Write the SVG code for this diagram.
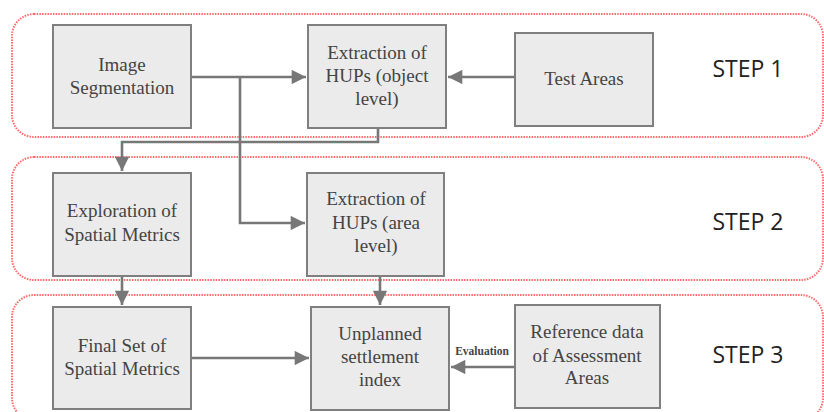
<svg xmlns="http://www.w3.org/2000/svg" width="824" height="412" viewBox="0 0 824 412">
<defs>
<style>
.step{fill:none;stroke:#ff6b6b;stroke-width:2;stroke-dasharray:1.5 1.2}
.box{fill:#ebebeb;stroke:#7f7f7f;stroke-width:2}
.lbl{font-family:"Liberation Serif","Times New Roman",serif;font-size:19px;fill:#444;text-anchor:middle}
.st{font-family:"Open Sans","Noto Sans",sans-serif;font-size:23px;fill:#222;text-anchor:middle}
.ev{font-family:"Liberation Serif",serif;font-size:11.5px;font-weight:bold;fill:#444;text-anchor:middle}
.c{fill:none;stroke:#777;stroke-width:2.6}
</style>
<marker id="ah" viewBox="0 0 10 10" refX="10" refY="5" markerWidth="7.5" markerHeight="5.5" markerUnits="strokeWidth" orient="auto">
<path d="M0,0 L10,5 L0,10 Z" fill="#777"/>
</marker>
</defs>
<rect width="824" height="412" fill="#fff"/>
<g id="containers">
<rect class="step" x="12" y="14" width="811" height="123" rx="22"/>
<rect class="step" x="12" y="157" width="811" height="123" rx="22"/>
<rect class="step" x="12" y="295" width="811" height="125" rx="22"/>
</g>
<g id="step1-label"><text class="st" x="748" y="77">STEP 1</text></g>
<g id="step2-label"><text class="st" x="748" y="230">STEP 2</text></g>
<g id="step3-label"><text class="st" x="748" y="363">STEP 3</text></g>
<g id="connectors">
<path class="c" d="M191,77 H306" marker-end="url(#ah)"/>
<path class="c" d="M515,77 H448" marker-end="url(#ah)"/>
<path class="c" d="M240,77 V223 H305" marker-end="url(#ah)"/>
<path class="c" d="M378,128 V142 H122 V171" marker-end="url(#ah)"/>
<path class="c" d="M122,276 V305" marker-end="url(#ah)"/>
<path class="c" d="M380,276 V305" marker-end="url(#ah)"/>
<path class="c" d="M191,358 H309" marker-end="url(#ah)"/>
<path class="c" d="M515,367 H451" marker-end="url(#ah)"/>
<text class="ev" x="482" y="355">Evaluation</text>
</g>
<g id="image-segmentation">
<rect class="box" x="53" y="25" width="138" height="103"/>
<text class="lbl" x="122" y="71">Image</text>
<text class="lbl" x="122" y="94">Segmentation</text>
</g>
<g id="extraction-object">
<rect class="box" x="308" y="25" width="138" height="103"/>
<text class="lbl" x="377" y="59">Extraction of</text>
<text class="lbl" x="377" y="82">HUPs (object</text>
<text class="lbl" x="377" y="105">level)</text>
</g>
<g id="test-areas">
<rect class="box" x="515" y="33" width="138" height="93"/>
<text class="lbl" x="584" y="85">Test Areas</text>
</g>
<g id="exploration">
<rect class="box" x="53" y="173" width="138" height="103"/>
<text class="lbl" x="122" y="217">Exploration of</text>
<text class="lbl" x="122" y="241">Spatial Metrics</text>
</g>
<g id="extraction-area">
<rect class="box" x="307" y="173" width="137" height="103"/>
<text class="lbl" x="376" y="205">Extraction of</text>
<text class="lbl" x="376" y="229">HUPs (area</text>
<text class="lbl" x="376" y="252">level)</text>
</g>
<g id="final-set">
<rect class="box" x="53" y="307" width="138" height="102"/>
<text class="lbl" x="122" y="352">Final Set of</text>
<text class="lbl" x="122" y="375">Spatial Metrics</text>
</g>
<g id="unplanned-index">
<rect class="box" x="311" y="307" width="138" height="103"/>
<text class="lbl" x="380" y="340">Unplanned</text>
<text class="lbl" x="380" y="363">settlement</text>
<text class="lbl" x="380" y="386">index</text>
</g>
<g id="reference-data">
<rect class="box" x="515" y="305" width="145" height="103"/>
<text class="lbl" x="587" y="338">Reference data</text>
<text class="lbl" x="587" y="362">of Assessment</text>
<text class="lbl" x="587" y="384">Areas</text>
</g>
</svg>
